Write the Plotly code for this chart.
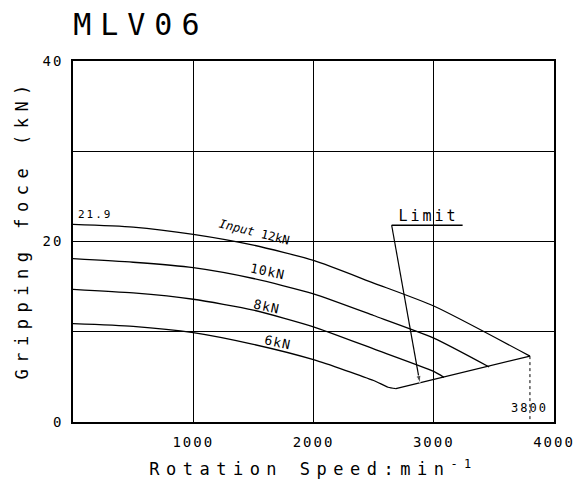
import plotly.graph_objects as go

# values (rpm, kN)
speed_12 = [0, 500, 1000, 1500, 2000, 2500, 3000, 3800]
force_12 = [21.9, 21.6, 20.8, 19.6, 17.9, 15.4, 12.85, 7.3]

speed_10 = [0, 500, 1000, 1500, 2000, 2500, 3000, 3461]
force_10 = [18.1, 17.7, 17.1, 15.9, 14.2, 11.8, 9.3, 6.1]

speed_8 = [0, 500, 1000, 1500, 2000, 2500, 3000, 3084]
force_8 = [14.7, 14.3, 13.6, 12.4, 10.55, 8.1, 5.6, 4.95]

speed_6 = [0, 500, 1000, 1500, 2000, 2500, 2620, 2685]
force_6 = [10.9, 10.6, 9.9, 8.6, 6.9, 4.6, 3.85, 3.7]

limit_speed = [2685, 3800]
limit_force = [3.7, 7.3]

max_speed = 3800
max_force = 7.3

x_ticks = [1000, 2000, 3000, 4000]
y_ticks = [0, 20, 40]
y_minor = [10, 30]

FONT = "DejaVu Sans Mono"
INK = "black"

fig = go.Figure()

for sx, fy in [(speed_12, force_12), (speed_10, force_10), (speed_8, force_8), (speed_6, force_6)]:
    fig.add_trace(go.Scatter(x=sx, y=fy, mode="lines",
                             line=dict(color=INK, width=1.3, shape="spline", smoothing=0.6),
                             hoverinfo="x+y", showlegend=False))

fig.add_trace(go.Scatter(x=limit_speed, y=limit_force, mode="lines",
                         line=dict(color=INK, width=1.3), showlegend=False))

# dotted drop line at max speed
fig.add_trace(go.Scatter(x=[max_speed, max_speed], y=[max_force, 0], mode="lines",
                         line=dict(color=INK, width=1, dash="dot"), showlegend=False))

# "Limit" pointer: underline + arrow
fig.add_shape(type="line", x0=2650, x1=3240, y0=21.8, y1=21.8,
              line=dict(color=INK, width=1.3))
fig.add_trace(go.Scatter(x=[2650, 2885], y=[21.8, 4.3], mode="lines+markers",
                         line=dict(color=INK, width=1.2),
                         marker=dict(symbol=["circle", "arrow"], size=[0, 8],
                                     angleref="previous", color=INK),
                         hoverinfo="skip", showlegend=False))

notes = [
    dict(x=60, y=23.0, text="21.9", xanchor="left", size=11, angle=0),
    dict(x=1505, y=21.0, text="<i>Input</i> 12kN", xanchor="center", size=12, angle=14),
    dict(x=1617, y=16.7, text="10kN", xanchor="center", size=13, angle=12),
    dict(x=1605, y=12.8, text="8kN", xanchor="center", size=13, angle=12),
    dict(x=1704, y=8.8, text="6kN", xanchor="center", size=13, angle=12),
    dict(x=3800, y=1.6, text="3800", xanchor="center", size=12, angle=0),
    dict(x=2960, y=22.8, text="Limit", xanchor="center", size=15, angle=0),
]
for n in notes:
    fig.add_annotation(x=n["x"], y=n["y"], text=n["text"], showarrow=False,
                       xanchor=n["xanchor"], textangle=n["angle"],
                       font=dict(family=FONT, size=n["size"], color=INK))

# y axis title as a paper annotation so it can sit a little above centre
fig.add_annotation(x=-0.106, y=0.535, xref="paper", yref="paper",
                   xanchor="center", yanchor="middle",
                   text="Gripping foce (kN)", showarrow=False, textangle=-90,
                   font=dict(family=FONT, size=17, color=INK))

# page body has an 8px margin, so the margins are shifted by that amount
fig.update_layout(
    width=587, height=487,
    margin=dict(l=65, r=41, t=53, b=73),
    plot_bgcolor="white", paper_bgcolor="white",
    font=dict(family=FONT, color=INK, size=14),
    title=dict(text="MLV06", x=0.111, xanchor="left", xref="container",
               y=0.967, yanchor="middle", yref="container",
               font=dict(family=FONT, size=30, color=INK)),
    showlegend=False,
)
fig.update_xaxes(range=[0, 4000], tickvals=x_ticks, automargin=False,
                 showgrid=True, gridcolor=INK, gridwidth=1.3,
                 showline=True, linecolor=INK, linewidth=1.5, mirror=True,
                 zeroline=False, ticks="", ticklabelstandoff=6,
                 tickfont=dict(family=FONT, size=14),
                 title=dict(text="Rotation Speed:min<sup>-1</sup>", standoff=15,
                            font=dict(family=FONT, size=17)))
fig.update_yaxes(range=[0, 40], tickvals=y_ticks, automargin=False,
                 showgrid=True, gridcolor=INK, gridwidth=1.3,
                 minor=dict(tickvals=y_minor, showgrid=True, gridcolor=INK, gridwidth=1.3),
                 showline=True, linecolor=INK, linewidth=1.5, mirror=True,
                 zeroline=False, ticks="", ticklabelstandoff=5,
                 tickfont=dict(family=FONT, size=14))

# the plotter font of the original is widely spaced
spacing_js = """
var gd = document.getElementById('{plot_id}');
function sp(sel, v) { gd.querySelectorAll(sel).forEach(function(t){ t.style.letterSpacing = v; }); }
sp('.gtitle', '9px');
sp('.xtitle', '6.5px');
sp('.xtick text', '2px');
sp('.ytick text', '2px');
var ann = ['2px', '0px', '1px', '1px', '1px', '2px', '3px', '6.5px'];
gd.querySelectorAll('.annotation').forEach(function(a, i){
  a.querySelectorAll('.annotation-text').forEach(function(t){ t.style.letterSpacing = ann[i] || '0px'; });
});
"""
fig.write_html("out.html", post_script=spacing_js)
